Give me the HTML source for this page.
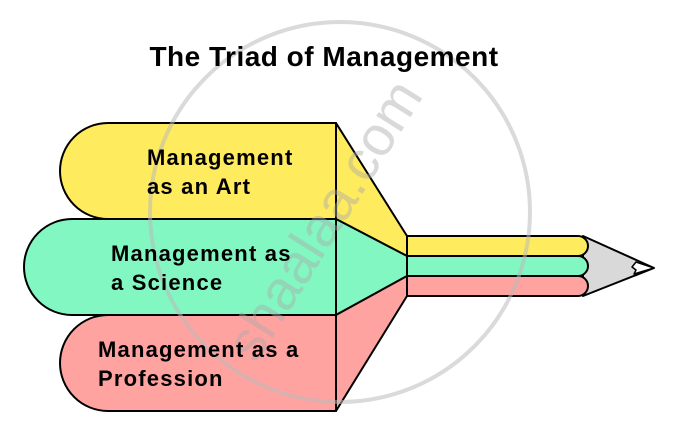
<!DOCTYPE html>
<html><head><meta charset="utf-8"><style>
body{margin:0;background:#fff;width:678px;height:422px;overflow:hidden}
svg{display:block}
text{font-family:"Liberation Sans",sans-serif;font-weight:bold;fill:#000}
</style></head><body>
<svg width="678" height="422" viewBox="0 0 678 422">
<g stroke="#000" stroke-width="2" stroke-linejoin="round">
<path d="M336,123 L407,236 L407,256 L336,219 Z" fill="#ffeb5e"/>
<path d="M336,219 L407,256 L407,276 L336,315 Z" fill="#82f7c2"/>
<path d="M336,315 L407,276 L407,296 L336,411 Z" fill="#ffa3a0"/>
<path d="M108,123 L336,123 L336,219 L108,219 A48,48 0 0 1 108,123 Z" fill="#ffeb5e"/>
<path d="M72,219 L336,219 L336,315 L72,315 A48,48 0 0 1 72,219 Z" fill="#82f7c2"/>
<path d="M108,315 L336,315 L336,411 L108,411 A48,48 0 0 1 108,315 Z" fill="#ffa3a0"/>
<path d="M583,236 L654,268 L583,296 Z" fill="#d9d9d9"/>
<path d="M407,236 L578,236 A10,10 0 0 1 578,256 L407,256 Z" fill="#ffeb5e"/>
<path d="M407,256 L578,256 A10,10 0 0 1 578,276 L407,276 Z" fill="#82f7c2"/>
<path d="M407,276 L578,276 A10,10 0 0 1 578,296 L407,296 Z" fill="#ffa3a0"/>
<path d="M654,268 L636,262 L632,267 L636,270 L634,274 Z" fill="#fff" stroke-width="1.5"/>
</g>
<circle cx="340" cy="212" r="190" fill="none" stroke="#bbb" stroke-opacity="0.55" stroke-width="4"/>
<text x="340" y="230" transform="rotate(-58 340 230)" text-anchor="middle" font-size="56" style="font-weight:normal;fill:#aaa;fill-opacity:0.45">shaalaa.com</text>
<text x="324" y="66" text-anchor="middle" font-size="28" letter-spacing="0.5">The Triad of Management</text>
<g font-size="22" letter-spacing="1.2">
<text><tspan x="147" y="165">Management</tspan><tspan x="147" y="194">as an Art</tspan></text>
<text><tspan x="111" y="261">Management as</tspan><tspan x="111" y="290">a Science</tspan></text>
<text><tspan x="98" y="357">Management as a</tspan><tspan x="98" y="386">Profession</tspan></text>
</g>
</svg>
</body></html>
